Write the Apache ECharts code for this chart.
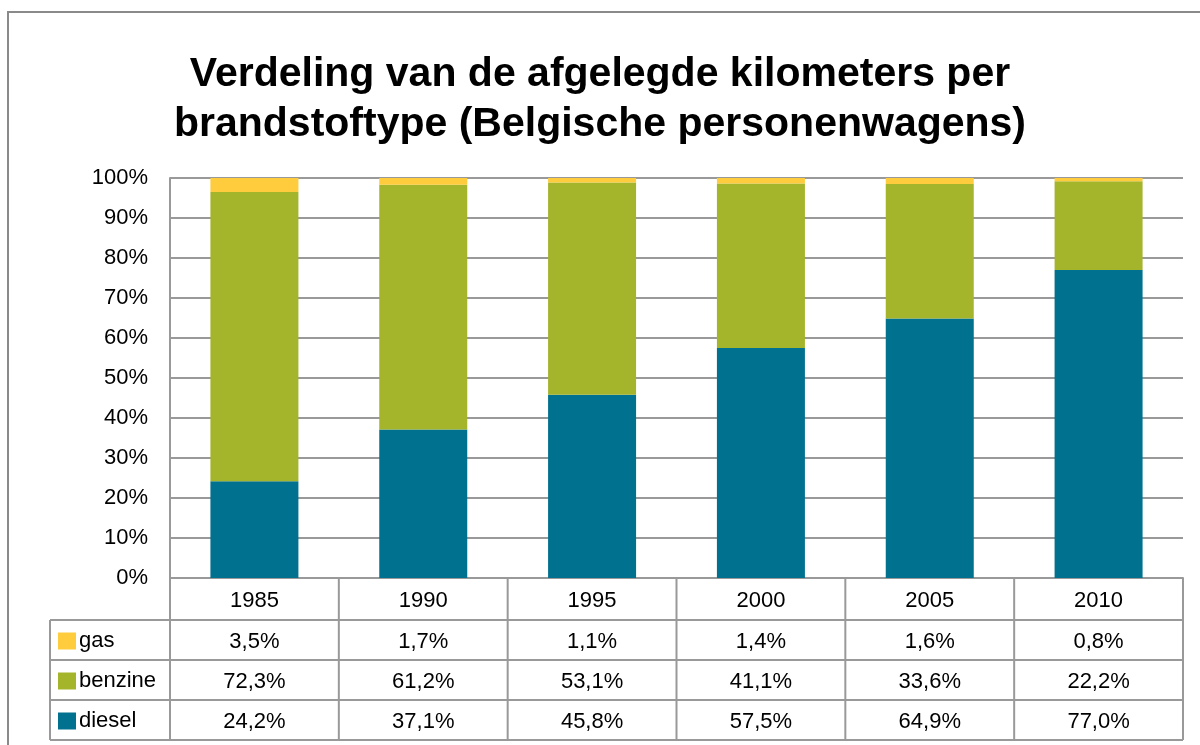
<!DOCTYPE html>
<html>
<head>
<meta charset="utf-8">
<script src="https://cdn.jsdelivr.net/npm/echarts@6/dist/echarts.min.js"></script>
<style>
  html, body { margin: 0; padding: 0; background: #fff; }
  #chart { width: 1200px; height: 745px; }
</style>
</head>
<body>
<div id="chart"></div>
<script>
const years = ['1985', '1990', '1995', '2000', '2005', '2010']
const gas = [3.5, 1.7, 1.1, 1.4, 1.6, 0.8]
const benzine = [72.3, 61.2, 53.1, 41.1, 33.6, 22.2]
const diesel = [24.2, 37.1, 45.8, 57.5, 64.9, 77.0]
const yTicks = [0, 10, 20, 30, 40, 50, 60, 70, 80, 90, 100]
const rowNames = ['gas', 'benzine', 'diesel']

const colors = { gas: '#FECC3C', benzine: '#A4B42B', diesel: '#00718F' }
const lineColor = '#999999'
const font = '"Liberation Sans", Arial, sans-serif'
const fs = 22

const gridLeft = 170, gridRight = 17, gridTop = 178, gridBottom = 167
const rowH = 40

function pct(v) {
  return v.toFixed(1).replace('.', ',') + '%'
}

const chart = echarts.init(document.getElementById('chart'), null, { devicePixelRatio: 1 })

function bar(name, data) {
  return {
    name,
    type: 'bar',
    stack: 'total',
    data,
    barWidth: 88,
    itemStyle: { color: colors[name] },
    emphasis: { disabled: true }
  }
}

// one legend per table row so each key sits in its own cell
const legends = rowNames.map((name, r) => ({
  data: [name],
  left: 58,
  top: gridTop + 400 + rowH + 2 + r * rowH + 10,
  padding: 0,
  itemWidth: 18,
  itemHeight: 17,
  itemGap: 4,
  icon: 'rect',
  selectedMode: false,
  textStyle: { fontSize: fs, color: '#000', fontFamily: font, padding: [0, 0, 0, -2] }
}))

chart.setOption({
  animation: false,
  textStyle: { fontFamily: font },
  title: {
    text: 'Verdeling van de afgelegde kilometers per\nbrandstoftype (Belgische personenwagens)',
    left: 'center',
    top: 45,
    textStyle: {
      fontFamily: font,
      fontWeight: 'bold',
      fontSize: 41,
      lineHeight: 50,
      color: '#000'
    }
  },
  legend: legends,
  grid: { left: gridLeft, right: gridRight, top: gridTop, bottom: gridBottom },
  xAxis: {
    type: 'category',
    data: years,
    axisLine: { lineStyle: { color: lineColor, width: 2 } },
    axisTick: { show: false },
    axisLabel: {
      margin: 2,
      formatter: (val, i) =>
        `{y|${val}}\n{v|${pct(gas[i])}}\n{v|${pct(benzine[i])}}\n{v|${pct(diesel[i])}}`,
      rich: {
        y: { fontSize: fs, lineHeight: rowH + 2, color: '#000', fontFamily: font },
        v: { fontSize: fs, lineHeight: rowH, color: '#000', fontFamily: font }
      }
    }
  },
  yAxis: {
    type: 'value',
    min: yTicks[0],
    max: yTicks[yTicks.length - 1],
    interval: yTicks[1] - yTicks[0],
    axisLine: { show: true, lineStyle: { color: lineColor, width: 2 } },
    axisTick: { show: false },
    splitLine: { lineStyle: { color: lineColor, width: 2 } },
    axisLabel: {
      margin: 22,
      fontSize: fs,
      color: '#000',
      fontFamily: font,
      formatter: v => v + '%'
    }
  },
  series: [
    bar('diesel', diesel),
    bar('benzine', benzine),
    bar('gas', gas)
  ]
})

// data table borders, placed from the axis scale
function drawTable() {
  const centers = years.map((y, i) => chart.convertToPixel({ xAxisIndex: 0 }, i))
  const band = centers.length > 1 ? centers[1] - centers[0] : 0
  const left = centers[0] - band / 2
  const right = centers[centers.length - 1] + band / 2
  const axisY = chart.convertToPixel({ yAxisIndex: 0 }, 0)
  const headerBottom = axisY + rowH + 2
  const bottom = headerBottom + rowH * 3
  const legendLeft = 50
  const st = { stroke: lineColor, lineWidth: 2 }
  const lines = []

  const xs = [left]
  centers.forEach(c => xs.push(c + band / 2))
  xs.forEach(x => {
    lines.push({ type: 'line', shape: { x1: x, y1: axisY, x2: x, y2: bottom }, style: st, silent: true })
  })
  lines.push({ type: 'line', shape: { x1: legendLeft, y1: headerBottom, x2: legendLeft, y2: bottom }, style: st, silent: true })

  for (let r = 0; r <= 3; r++) {
    const y = headerBottom + r * rowH
    lines.push({ type: 'line', shape: { x1: legendLeft, y1: y, x2: right, y2: y }, style: st, silent: true })
  }

  lines.push({
    type: 'rect',
    shape: { x: 8, y: 12, width: 1400, height: 900 },
    style: { fill: 'none', stroke: '#8a8a8a', lineWidth: 2 },
    silent: true
  })

  chart.setOption({ graphic: lines })
}

drawTable()
</script>
</body>
</html>
